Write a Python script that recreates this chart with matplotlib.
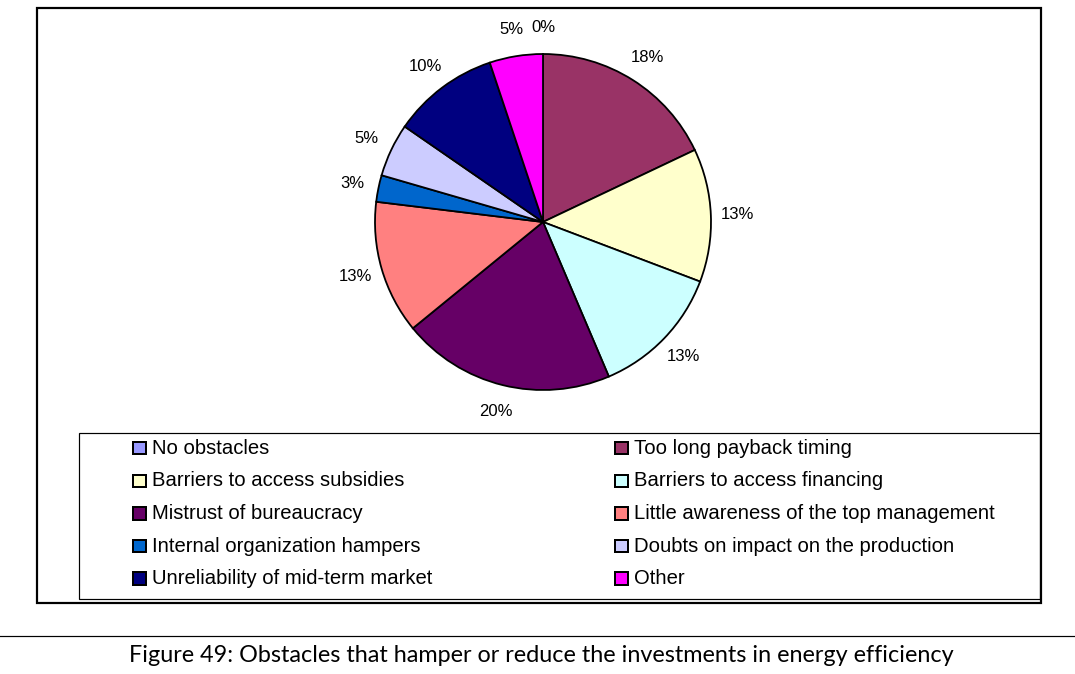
import matplotlib
matplotlib.use("Agg")
import matplotlib.pyplot as plt
from matplotlib.patches import Rectangle
from matplotlib.lines import Line2D

# ---- data ----
categories = [
    "No obstacles",
    "Too long payback timing",
    "Barriers to access subsidies",
    "Barriers to access financing",
    "Mistrust of bureaucracy",
    "Little awareness of the top management",
    "Internal organization hampers",
    "Doubts on impact on the production",
    "Unreliability of mid-term market",
    "Other",
]
values = [0, 17.5, 12.5, 12.5, 20.0, 12.5, 2.5, 5.0, 10.0, 5.0]
pct_labels = ["0%", "18%", "13%", "13%", "20%", "13%", "3%", "5%", "10%", "5%"]
colors = ["#9999FF", "#993366", "#FFFFCC", "#CCFFFF", "#660066",
          "#FF8080", "#0066CC", "#CCCCFF", "#000080", "#FF00FF"]
caption = "Figure 49: Obstacles that hamper or reduce the investments in energy efficiency"

W, H = 1075, 674
fig = plt.figure(figsize=(W / 100, H / 100), dpi=100)
fig.patch.set_facecolor("white")

def fx(px):
    return px / W

def fy(py):
    return 1 - py / H

PX = 72 / 100  # points per pixel

# outer chart frame
fig.add_artist(Rectangle((fx(37), fy(603)), fx(1041) - fx(37), fy(8) - fy(603),
                         transform=fig.transFigure, fill=False,
                         edgecolor="black", linewidth=2.2 * PX))
# legend frame
fig.add_artist(Rectangle((fx(78.5), fy(599)), fx(1040) - fx(78.5), fy(433) - fy(599),
                         transform=fig.transFigure, fill=False,
                         edgecolor="black", linewidth=1.2 * PX))
# caption separator line
fig.add_artist(Line2D([0, 1], [fy(636), fy(636)], transform=fig.transFigure,
                      color="black", linewidth=1.2 * PX))

# ---- pie ----
cx, cy, r = 543, 222, 168
ax = fig.add_axes([fx(cx - r), fy(cy + r), 2 * r / W, 2 * r / H])

wedges, texts = ax.pie(values, colors=colors, startangle=90, counterclock=False,
                       labels=pct_labels, labeldistance=1.16,
                       wedgeprops=dict(edgecolor="black", linewidth=1.8 * PX),
                       textprops=dict(family="Liberation Sans", fontsize=12,
                                      color="black"))
ax.set_xlim(-1, 1)
ax.set_ylim(-1, 1)
ax.set_aspect("equal")
ax.axis("off")
for t in texts:
    t.set_ha("center")
    t.set_va("center")
    t.set_clip_on(False)

# ---- legend (row-major, two columns) ----
col_x = [133, 615]
row_y = [448, 481, 513.5, 546, 578.5]
sq = 12.5
for i, (name, col) in enumerate(zip(categories, colors)):
    row, c = divmod(i, 2)
    x0 = col_x[c]
    y0 = row_y[row]
    fig.add_artist(Rectangle((fx(x0), fy(y0 + sq / 2)), sq / W, sq / H,
                             transform=fig.transFigure, facecolor=col,
                             edgecolor="black", linewidth=2.0 * PX))
    fig.text(fx(x0 + 19), fy(y0), name, ha="left", va="center",
             family="Liberation Sans", fontsize=14.6, color="black")

# caption
fig.text(fx(541), fy(655), caption, ha="center", va="center",
         family="Lato", fontsize=16.8, color="black")

fig.savefig("out.png", dpi=100, facecolor="white")
